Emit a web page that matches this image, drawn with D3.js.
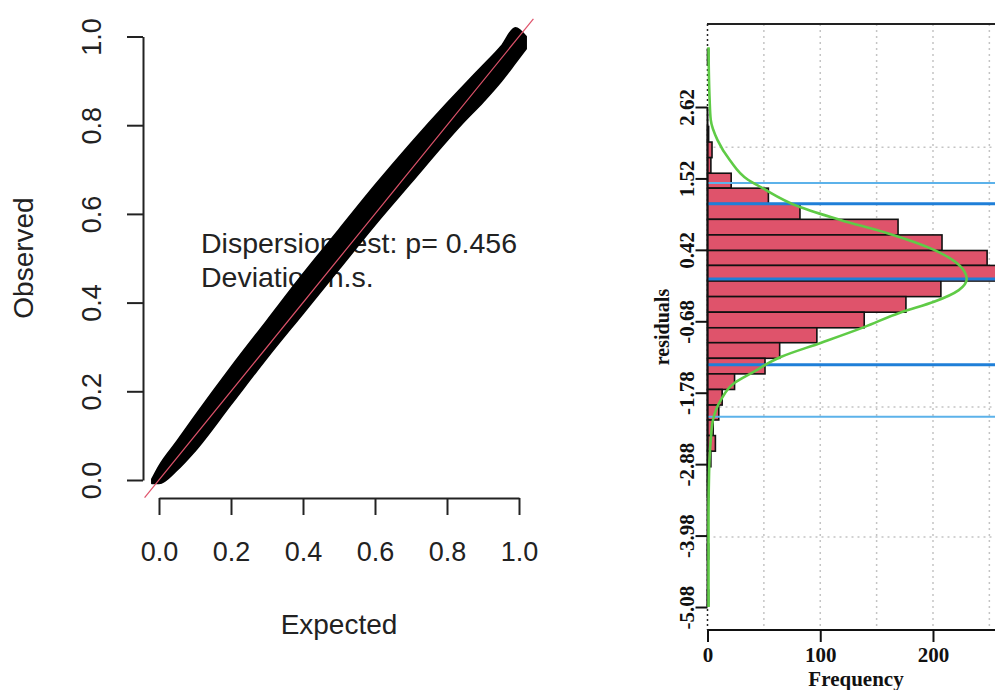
<!DOCTYPE html>
<html>
<head>
<meta charset="utf-8">
<script src="https://cdn.jsdelivr.net/npm/d3@7"></script>
<style>
    html, body { margin: 0; padding: 0; background: #fff; }
    svg { display: block; }
</style>
</head>
<body>
<svg id="chart" width="995" height="690"></svg>
<script>
const bandExpected     = [-0.02, 0.00, 0.05, 0.10, 0.20, 0.30, 0.40, 0.50, 0.60, 0.70, 0.80, 0.85, 0.90, 0.95, 0.99, 1.02];
const bandObservedLow  = [-0.008, -0.008, 0.022, 0.065, 0.17, 0.275, 0.375, 0.475, 0.575, 0.67, 0.765, 0.81, 0.852, 0.898, 0.94, 0.972];
const bandObservedHigh = [0.002, 0.032, 0.088, 0.145, 0.255, 0.36, 0.465, 0.565, 0.665, 0.76, 0.85, 0.893, 0.935, 0.978, 1.02, 1.0];

const qqTicks = [0, 0.2, 0.4, 0.6, 0.8, 1.0];
const qqTickLabels = ['0.0', '0.2', '0.4', '0.6', '0.8', '1.0'];
const qqText = ['Dispersion test: p= 0.456', 'Deviation n.s.'];

// Histogram of residuals, bins listed top to bottom
const binEdges = [3.74, 3.51, 3.27, 3.03, 2.79, 2.56, 2.32, 2.08, 1.84, 1.60, 1.37, 1.13, 0.89, 0.65,
    0.41, 0.18, -0.06, -0.30, -0.54, -0.78, -1.01, -1.25, -1.49, -1.73, -1.97, -2.20, -2.44, -2.68,
    -2.92, -3.15, -3.39, -3.63, -3.87, -4.11, -4.34, -4.58, -4.82, -5.06];
const binCounts = [0, 1, 0, 0, 0, 0, 1, 4, 3, 21, 54, 82, 169, 208, 248, 262, 207, 176, 139, 97, 64,
    51, 24, 13, 10, 5, 7, 3, 1, 1, 0, 0, 0, 1, 0, 0, 1];

// green density curve, read point by point
const curveResidual  = [3.54, 2.73, 2.42, 2.11, 1.80, 1.50, 1.39, 1.08, 0.88, 0.68, 0.42, 0.19, -0.03,
    -0.20, -0.38, -0.54, -0.77, -1.01, -1.23, -1.48, -1.63, -1.89, -2.20, -2.51, -3.02, -3.74, -5.08];
const curveFrequency = [0, 1, 2, 8, 19, 35, 46, 81, 117, 158, 200, 222, 229,
    222, 200, 171, 138, 100, 64, 38, 23, 11, 4, 2, 0.5, 0, 0];

// blue reference lines
const refLines = [1.45, 1.13, -0.03, -1.35, -2.15];
const refLineKinds = ['light', 'dark', 'dark', 'dark', 'light'];

const residualTicks = [2.62, 1.52, 0.42, -0.68, -1.78, -2.88, -3.98, -5.08];
const freqTicks = [0, 100, 200];
const gridResiduals = [-4, -2, 0, 2];
const gridFreqs = [50, 100, 150, 200, 250];

const svg = d3.select('#chart');
const sans = "'Liberation Sans', Arial, sans-serif";
const serif = "'Liberation Serif', 'Times New Roman', serif";

function drawQQ() {
    const x = d3.scaleLinear().domain([0, 1]).range([159, 519]);
    const y = d3.scaleLinear().domain([0, 1]).range([480, 36.5]);
    const g = svg.append('g');

    // axes
    const xAxis = g.append('g')
        .attr('transform', 'translate(0,498)')
        .call(d3.axisBottom(x).tickValues(qqTicks).tickFormat((d, i) => qqTickLabels[i]).tickSize(17).tickSizeOuter(0));
    const yAxis = g.append('g')
        .attr('transform', 'translate(143,0)')
        .call(d3.axisLeft(y).tickValues(qqTicks).tickFormat((d, i) => qqTickLabels[i]).tickSize(16).tickSizeOuter(0));

    [xAxis, yAxis].forEach(ax => {
        ax.select('.domain').attr('stroke', '#222').attr('stroke-width', 2);
        ax.selectAll('.tick line').attr('stroke', '#222').attr('stroke-width', 2);
        ax.selectAll('text').attr('fill', '#222').style('font-family', sans).style('font-size', '27px');
    });
    xAxis.selectAll('text').attr('y', 63).attr('dy', 0);
    yAxis.selectAll('text')
        .attr('x', 0).attr('dy', 0).attr('text-anchor', 'middle')
        .attr('transform', 'translate(-42,0) rotate(-90)');

    g.append('text')
        .attr('x', 339).attr('y', 634)
        .attr('text-anchor', 'middle')
        .style('font-family', sans).style('font-size', '28px').attr('fill', '#222')
        .text('Expected');
    g.append('text')
        .attr('transform', 'translate(33,258) rotate(-90)')
        .attr('text-anchor', 'middle')
        .style('font-family', sans).style('font-size', '28px').attr('fill', '#222')
        .text('Observed');

    // legend text (the points are drawn over it)
    g.selectAll('.qq-text')
        .data(qqText)
        .enter()
        .append('text')
        .attr('x', 201)
        .attr('y', (d, i) => 253 + i * 34)
        .style('font-family', sans).style('font-size', '28.5px').attr('fill', '#222')
        .text(d => d);

    const band = bandExpected.map((e, i) => ({ e: e, lo: bandObservedLow[i], hi: bandObservedHigh[i] }));
    g.append('path')
        .datum(band)
        .attr('d', d3.area().x(d => x(d.e)).y0(d => y(d.lo)).y1(d => y(d.hi)).curve(d3.curveMonotoneX))
        .attr('fill', '#000')
        .attr('stroke', '#000')
        .attr('stroke-width', 1.5)
        .attr('stroke-linejoin', 'round');

    // 1:1 line
    g.append('line')
        .attr('x1', x(-0.04)).attr('y1', y(-0.04))
        .attr('x2', x(1.04)).attr('y2', y(1.04))
        .attr('stroke', '#DF536B')
        .attr('stroke-width', 1.2);
}

function drawHistogram() {
    const x = d3.scaleLinear().domain([0, 255]).range([707.5, 995]);
    const y = d3.scaleLinear().domain([-5.434, 3.898]).range([630, 24]);
    const g = svg.append('g');

    // dotted grid
    g.selectAll('.vgrid')
        .data(gridFreqs)
        .enter()
        .append('line')
        .attr('x1', d => x(d)).attr('x2', d => x(d))
        .attr('y1', 24).attr('y2', 630)
        .attr('stroke', '#c4c4c4').attr('stroke-width', 1.5).attr('stroke-dasharray', '2,4');
    g.selectAll('.hgrid')
        .data(gridResiduals)
        .enter()
        .append('line')
        .attr('x1', x(0)).attr('x2', 995)
        .attr('y1', d => y(d)).attr('y2', d => y(d))
        .attr('stroke', '#c4c4c4').attr('stroke-width', 1.5).attr('stroke-dasharray', '2,4');
    g.append('line')
        .attr('x1', x(0)).attr('x2', x(0))
        .attr('y1', 24).attr('y2', 630)
        .attr('stroke', '#222').attr('stroke-width', 1.5).attr('stroke-dasharray', '2,3');

    // bars
    const bins = binCounts.map((c, i) => ({ top: binEdges[i], bottom: binEdges[i + 1], count: c }))
        .filter(d => d.count > 0);
    g.selectAll('.bar')
        .data(bins)
        .enter()
        .append('rect')
        .attr('x', x(0))
        .attr('y', d => y(d.top))
        .attr('width', d => x(d.count) - x(0))
        .attr('height', d => y(d.bottom) - y(d.top))
        .attr('fill', '#DF536B')
        .attr('stroke', '#111')
        .attr('stroke-width', 1.6);

    // reference lines
    g.selectAll('.ref')
        .data(refLines)
        .enter()
        .append('line')
        .attr('x1', x(0)).attr('x2', 995)
        .attr('y1', d => y(d)).attr('y2', d => y(d))
        .attr('stroke', (d, i) => refLineKinds[i] === 'light' ? '#5cb2ea' : '#1f7fd8')
        .attr('stroke-width', (d, i) => refLineKinds[i] === 'light' ? 2 : 3);

    // axes and box top
    g.append('line')
        .attr('x1', 707).attr('x2', 995).attr('y1', 24).attr('y2', 24)
        .attr('stroke', '#222').attr('stroke-width', 2);

    const xAxis = g.append('g')
        .attr('transform', 'translate(0,630)')
        .call(d3.axisBottom(x).tickValues(freqTicks).tickSize(12).tickSizeOuter(0));
    const yAxis = g.append('g')
        .attr('transform', `translate(${x(0)},0)`)
        .call(d3.axisLeft(y).tickValues(residualTicks).tickFormat(d => d.toFixed(2)).tickSize(12).tickSizeOuter(0));
    yAxis.select('.domain').attr('d', `M0,${y(residualTicks[0])}V${y(residualTicks[residualTicks.length - 1])}`);

    [xAxis, yAxis].forEach(ax => {
        ax.select('.domain').attr('stroke', '#111').attr('stroke-width', 2);
        ax.selectAll('.tick line').attr('stroke', '#111').attr('stroke-width', 2);
        ax.selectAll('text').attr('fill', '#111')
            .style('font-family', serif).style('font-size', '21px').style('font-weight', 'bold');
    });
    xAxis.select('.domain').attr('d', `M${x(0)},0H1000`);
    xAxis.selectAll('text').attr('y', 32).attr('dy', 0);
    yAxis.selectAll('text')
        .attr('x', 0).attr('dy', 0).attr('text-anchor', 'middle')
        .attr('transform', 'translate(-14,0) rotate(-90)');

    // density curve
    const pts = curveResidual.map((r, i) => ({ r: r, f: curveFrequency[i] }));
    g.append('path')
        .datum(pts)
        .attr('d', d3.line().x(d => x(d.f) + 1).y(d => y(d.r)).curve(d3.curveMonotoneY))
        .attr('fill', 'none')
        .attr('stroke', '#5fcb46')
        .attr('stroke-width', 2.6);

    g.append('text')
        .attr('x', 856).attr('y', 686)
        .attr('text-anchor', 'middle')
        .style('font-family', serif).style('font-size', '21px').style('font-weight', 'bold')
        .attr('fill', '#111')
        .text('Frequency');
    g.append('text')
        .attr('transform', 'translate(669,327) rotate(-90)')
        .attr('text-anchor', 'middle')
        .style('font-family', serif).style('font-size', '20px').style('font-weight', 'bold')
        .attr('fill', '#111')
        .text('residuals');
}

drawQQ();
drawHistogram();
</script>
</body>
</html>
